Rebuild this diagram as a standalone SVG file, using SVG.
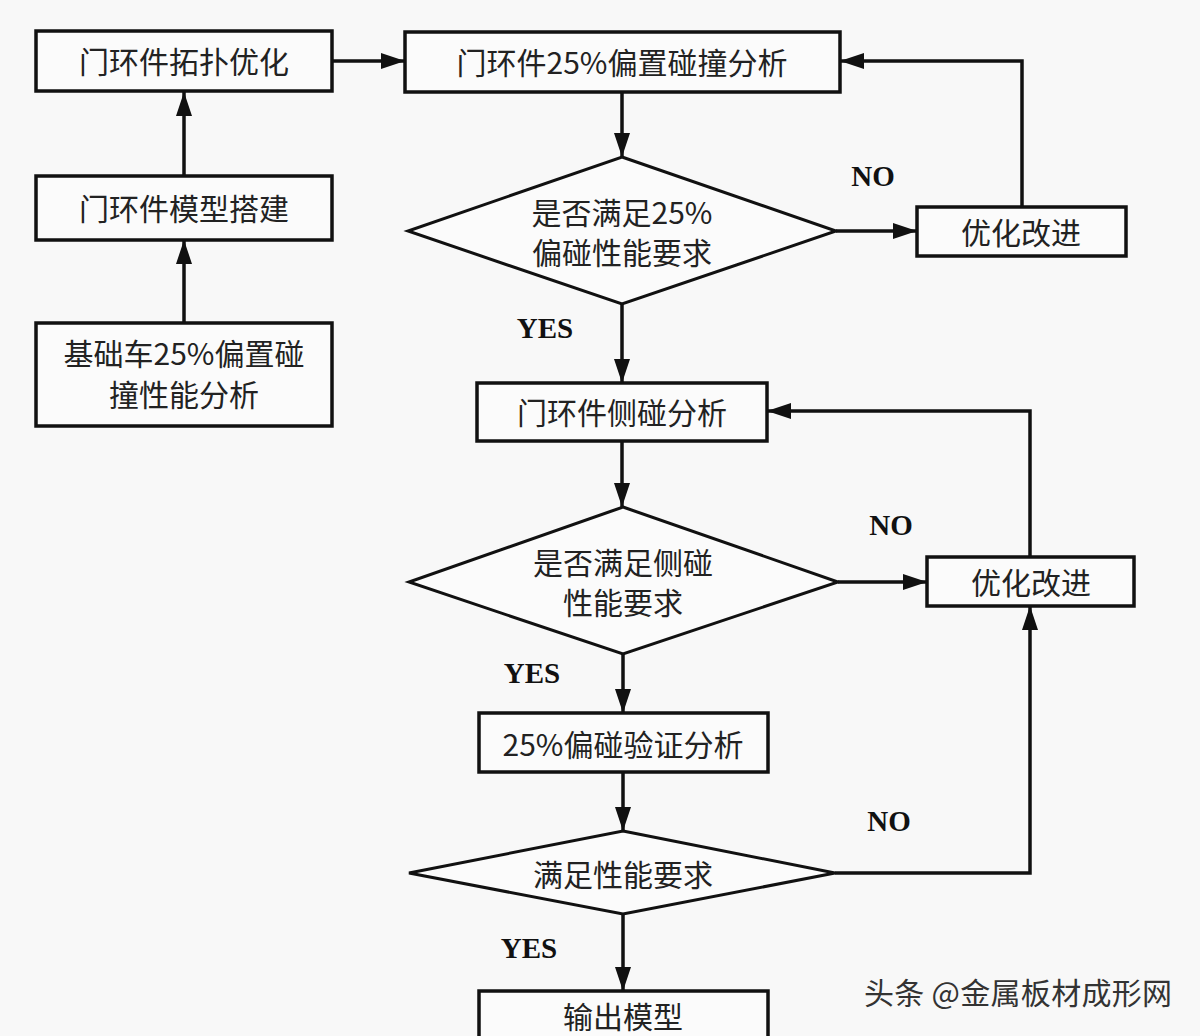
<svg xmlns="http://www.w3.org/2000/svg" width="1200" height="1036" viewBox="0 0 1200 1036">
<defs>
<marker id="ah" markerUnits="userSpaceOnUse" markerWidth="24" markerHeight="16" refX="24" refY="8" orient="auto">
<path d="M0,0 L24,8 L0,16 z" fill="#111"/>
</marker>
</defs>
<style>
.box{fill:#fbfbfb;stroke:#111;stroke-width:3.5}
.dia{fill:#fbfbfb;stroke:#111;stroke-width:3}
.t{font-family:"Noto Sans CJK SC","Noto Sans",sans-serif;font-size:30px;fill:#222;text-anchor:middle;dominant-baseline:central}
.lbl{font-family:"Liberation Serif","Times New Roman",serif;font-weight:bold;font-size:29px;fill:#111;text-anchor:middle;dominant-baseline:central}
.c{fill:none;stroke:#111;stroke-width:3.5;marker-end:url(#ah)}
.wm{font-family:"Noto Sans CJK SC","Noto Sans",sans-serif;font-size:30px;fill:#333}
</style>
<rect width="1200" height="1036" fill="#f8f8f8"/>
<g id="n-topo"><rect class="box" x="36" y="31" width="296" height="60"/><text class="t" x="184" y="60">门环件拓扑优化</text></g>
<g id="n-offset"><rect class="box" x="405" y="32" width="435" height="60"/><text class="t" x="622" y="61">门环件25%偏置碰撞分析</text></g>
<g id="n-model"><rect class="box" x="36" y="176" width="296" height="64"/><text class="t" x="184" y="207">门环件模型搭建</text></g>
<g id="n-base"><rect class="box" x="36" y="323" width="296" height="103"/><text class="t" x="184" y="352">基础车25%偏置碰</text><text class="t" x="184" y="393">撞性能分析</text></g>
<g id="n-d1"><polygon class="dia" points="622,157 836,231 622,304 408,231"/><text class="t" x="622" y="211">是否满足25%</text><text class="t" x="622" y="251">偏碰性能要求</text></g>
<g id="n-opt1"><rect class="box" x="917" y="207" width="209" height="49"/><text class="t" x="1021" y="231">优化改进</text></g>
<g id="n-side"><rect class="box" x="477" y="383" width="290" height="58"/><text class="t" x="622" y="411">门环件侧碰分析</text></g>
<g id="n-d2"><polygon class="dia" points="623,507 838,582 623,654 409,582"/><text class="t" x="623" y="561">是否满足侧碰</text><text class="t" x="623" y="601">性能要求</text></g>
<g id="n-opt2"><rect class="box" x="927" y="557" width="207" height="49"/><text class="t" x="1031" y="581">优化改进</text></g>
<g id="n-verify"><rect class="box" x="479" y="713" width="289" height="59"/><text class="t" x="623" y="743">25%偏碰验证分析</text></g>
<g id="n-d3"><polygon class="dia" points="623,831 835,873 623,914 409,873"/><text class="t" x="623" y="873">满足性能要求</text></g>
<g id="n-out"><rect class="box" x="479" y="991" width="289" height="70"/><text class="t" x="623" y="1015">输出模型</text></g>
<g id="connectors">
<path class="c" d="M184,323 L184,240"/>
<path class="c" d="M184,176 L184,92"/>
<path class="c" d="M332,61 L405,61"/>
<path class="c" d="M622,92 L622,157"/>
<path class="c" d="M836,231 L917,231"/>
<path class="c" d="M1022,207 L1022,61 L840,61"/>
<path class="c" d="M622,304 L622,383"/>
<path class="c" d="M622,441 L622,507"/>
<path class="c" d="M838,582 L927,582"/>
<path class="c" d="M1030,557 L1030,411 L767,411"/>
<path class="c" d="M623,654 L623,713"/>
<path class="c" d="M623,772 L623,831"/>
<path class="c" d="M835,873 L1030,873 L1030,606"/>
<path class="c" d="M623,914 L623,991"/>
<text class="lbl" x="873" y="176">NO</text>
<text class="lbl" x="545" y="328">YES</text>
<text class="lbl" x="891" y="525">NO</text>
<text class="lbl" x="532" y="673">YES</text>
<text class="lbl" x="889" y="821">NO</text>
<text class="lbl" x="529" y="948">YES</text>
</g>
<text class="wm" x="864" y="1004" textLength="308">头条 @金属板材成形网</text>
</svg>
